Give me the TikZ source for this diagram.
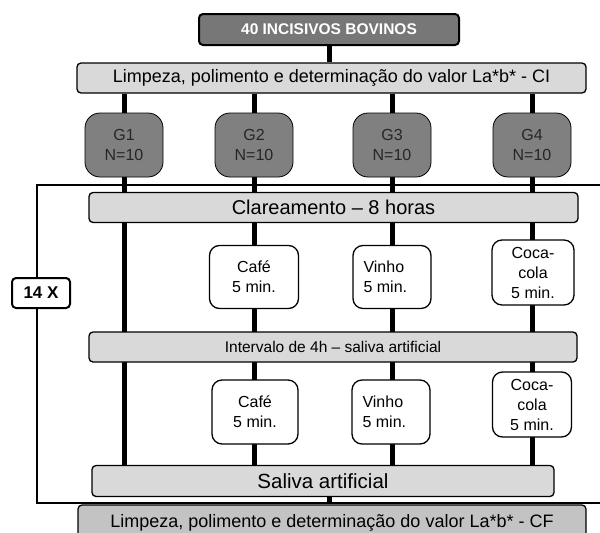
\documentclass[tikz,border=0pt]{standalone}
\usepackage{fontspec}
\setmainfont{Liberation Sans}
\usetikzlibrary{backgrounds}

\definecolor{darkbox}{HTML}{777777}
\definecolor{groupbox}{HTML}{808080}
\definecolor{lightbox}{HTML}{D9D9D9}
\definecolor{endbox}{HTML}{C3C3C3}

\begin{document}
\begin{tikzpicture}[x=1pt,y=-1pt]
\tikzstyle{every node}=[draw,inner sep=0pt,font=\fontsize{16}{20}\selectfont]
\tikzstyle{bar}=[rectangle,rounded corners=4pt,line width=1.3pt,fill=lightbox]
\tikzstyle{group}=[rectangle,rounded corners=15pt,line width=0.8pt,fill=groupbox,
  minimum width=78pt,minimum height=64pt,align=center,text=black!85]
\tikzstyle{drink}=[rectangle,rounded corners=10pt,line width=1.3pt,fill=white,
  minimum height=63pt,align=center]
\tikzstyle{column}=[line width=5pt]
\useasboundingbox (0,0) rectangle (600,533);
% loop frame
\draw[line width=1.3pt] (600,185) -| (37,503) -- (600,503);
\node[rectangle,rounded corners=4pt,line width=2pt,fill=white,minimum width=58pt,
  minimum height=30pt,font=\fontsize{17}{20}\bfseries] (rep) at (41,293) {14 X};
% header
\node[bar,fill=darkbox,line width=2pt,minimum width=260pt,minimum height=31pt,
  text=white,font=\fontsize{15.5}{20}\bfseries] (top) at (329,29.5) {40 INCISIVOS BOVINOS};
\node[bar,minimum width=509pt,minimum height=30pt,font=\fontsize{18}{20}\selectfont] (ci)
  at (331.5,78) {Limpeza, polimento e determinação do valor La*b* - CI};
% groups
\node[group] (g1) at (124,145) {G1\\N=10};
\node[group] (g2) at (254,145) {G2\\N=10};
\node[group] (g3) at (392,145) {G3\\N=10};
\node[group] (g4) at (532,145) {G4\\N=10};
% cycle
\node[bar,minimum width=489pt,minimum height=30pt,font=\fontsize{20}{20}\selectfont] (clar)
  at (333.5,207.5) {Clareamento -- 8 horas};
\node[drink,minimum width=89pt] (cafe1) at (254,277) {Café\\5 min.};
\node[drink,minimum width=78pt,align=left] (vinho1) at (392,277) {Vinho\\5 min.~~~~};
\node[drink,minimum width=82pt,minimum height=65pt] (coca1) at (533,272.5) {Coca-\\cola\\5 min.};
\node[bar,minimum width=488pt,minimum height=30pt,font=\fontsize{15.5}{20}\selectfont] (interv)
  at (333,347) {Intervalo de 4h -- saliva artificial};
\node[drink,minimum width=86pt,minimum height=64pt] (cafe2) at (255,412) {Café\\5 min.};
\node[drink,minimum width=78pt,minimum height=64pt,align=left] (vinho2) at (391,412) {Vinho\\5 min.~~~~};
\node[drink,minimum width=79pt,minimum height=65pt] (coca2) at (532,404.5) {Coca-\\cola\\5 min.};
\node[bar,minimum width=462pt,minimum height=31pt,font=\fontsize{20.5}{20}\selectfont] (sal)
  at (323,481) {Saliva artificial};
\node[bar,fill=endbox,minimum width=508pt,minimum height=36pt,font=\fontsize{18}{20}\selectfont] (cf)
  at (332,523) {Limpeza, polimento e determinação do valor La*b* - CF};
% connectors
\begin{scope}[on background layer]
\draw[column] (top) -- (top|-ci.north);
\foreach \g in {g1,g2,g3,g4}
  \draw[column] (\g|-ci.south) -- (\g|-sal.north);
\draw[column] (sal.south-|top) -- (cf.north-|top);
\end{scope}
\end{tikzpicture}
\end{document}
